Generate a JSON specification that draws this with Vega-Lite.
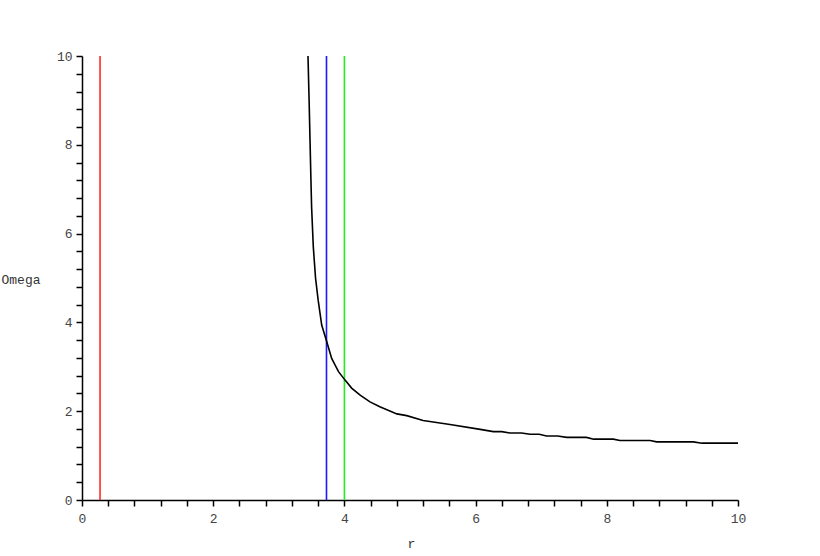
{
  "$schema": "https://vega.github.io/schema/vega-lite/v6.json",
  "autosize": "none",
  "width": 656,
  "height": 444,
  "padding": {"left": 82, "top": 56, "right": 82, "bottom": 56},
  "background": "white",
  "config": {
    "view": {"stroke": null},
    "axis": {
      "grid": false,
      "domainColor": "#000000",
      "domainWidth": 1.5,
      "tickColor": "#000000",
      "tickWidth": 1.5,
      "tickSize": 6,
      "labelFont": "Liberation Mono",
      "labelFontSize": 13,
      "labelColor": "#444444",
      "labelFlush": false,
      "titleFont": "Liberation Mono",
      "titleFontSize": 13,
      "titleFontWeight": "normal",
      "titleColor": "#333333",
      "labelOverlap": false
    }
  },
  "datasets": {
    "vlines": [
      {"r": 0.275, "series": "a"},
      {"r": 3.727, "series": "b"},
      {"r": 4.0, "series": "c"}
    ],
    "curve": [
      {"r": 3.445, "Omega": 10.0},
      {"r": 3.462, "Omega": 9.0},
      {"r": 3.476, "Omega": 8.1},
      {"r": 3.49, "Omega": 7.2},
      {"r": 3.50, "Omega": 6.6},
      {"r": 3.526, "Omega": 5.7},
      {"r": 3.56, "Omega": 5.0},
      {"r": 3.60, "Omega": 4.5},
      {"r": 3.654, "Omega": 3.94},
      {"r": 3.73, "Omega": 3.57},
      {"r": 3.806, "Omega": 3.19},
      {"r": 3.91, "Omega": 2.89},
      {"r": 4.01, "Omega": 2.70},
      {"r": 4.11, "Omega": 2.52},
      {"r": 4.24, "Omega": 2.36},
      {"r": 4.39, "Omega": 2.21},
      {"r": 4.54, "Omega": 2.10},
      {"r": 4.80, "Omega": 1.94},
      {"r": 4.95, "Omega": 1.90},
      {"r": 5.20, "Omega": 1.79},
      {"r": 5.61, "Omega": 1.70},
      {"r": 6.07, "Omega": 1.59},
      {"r": 6.27, "Omega": 1.54},
      {"r": 6.40, "Omega": 1.54},
      {"r": 6.52, "Omega": 1.51},
      {"r": 6.70, "Omega": 1.51},
      {"r": 6.83, "Omega": 1.48},
      {"r": 6.97, "Omega": 1.48},
      {"r": 7.08, "Omega": 1.44},
      {"r": 7.25, "Omega": 1.44},
      {"r": 7.39, "Omega": 1.41},
      {"r": 7.69, "Omega": 1.41},
      {"r": 7.80, "Omega": 1.37},
      {"r": 8.10, "Omega": 1.37},
      {"r": 8.20, "Omega": 1.34},
      {"r": 8.66, "Omega": 1.34},
      {"r": 8.76, "Omega": 1.31},
      {"r": 9.32, "Omega": 1.31},
      {"r": 9.45, "Omega": 1.28},
      {"r": 10.0, "Omega": 1.28}
    ]
  },
  "layer": [
    {
      "data": {"name": "vlines"},
      "mark": {"type": "rule", "strokeWidth": 1.6},
      "encoding": {
        "x": {
          "field": "r",
          "type": "quantitative",
          "scale": {"domain": [0, 10], "nice": false, "zero": false},
          "axis": {
            "title": "r",
            "values": [0, 0.4, 0.8, 1.2, 1.6, 2, 2.4, 2.8, 3.2, 3.6, 4, 4.4, 4.8, 5.2, 5.6, 6, 6.4, 6.8, 7.2, 7.6, 8, 8.4, 8.8, 9.2, 9.6, 10],
            "tickCount": 30,
            "labelExpr": "datum.value % 2 == 0 ? format(datum.value, 'd') : ''",
            "labelPadding": 6,
            "titleX": 329,
            "titleY": 43,
            "titleAlign": "center",
            "titleBaseline": "middle"
          }
        },
        "color": {
          "field": "series",
          "type": "nominal",
          "scale": {"domain": ["a", "b", "c"], "range": ["#ff2a2a", "#1a1aff", "#22ee22"]},
          "legend": null
        }
      }
    },
    {
      "data": {"name": "curve"},
      "mark": {"type": "line", "color": "#000000", "strokeWidth": 1.6, "interpolate": "linear"},
      "encoding": {
        "x": {"field": "r", "type": "quantitative"},
        "y": {
          "field": "Omega",
          "type": "quantitative",
          "scale": {"domain": [0, 10], "nice": false, "zero": false},
          "axis": {
            "title": "Omega",
            "values": [0, 0.4, 0.8, 1.2, 1.6, 2, 2.4, 2.8, 3.2, 3.6, 4, 4.4, 4.8, 5.2, 5.6, 6, 6.4, 6.8, 7.2, 7.6, 8, 8.4, 8.8, 9.2, 9.6, 10],
            "tickCount": 30,
            "labelExpr": "datum.value % 2 == 0 ? format(datum.value, 'd') : ''",
            "labelPadding": 4,
            "titleAngle": 0,
            "titleX": -81,
            "titleY": 223,
            "titleAlign": "left",
            "titleBaseline": "middle"
          }
        }
      }
    }
  ]
}
